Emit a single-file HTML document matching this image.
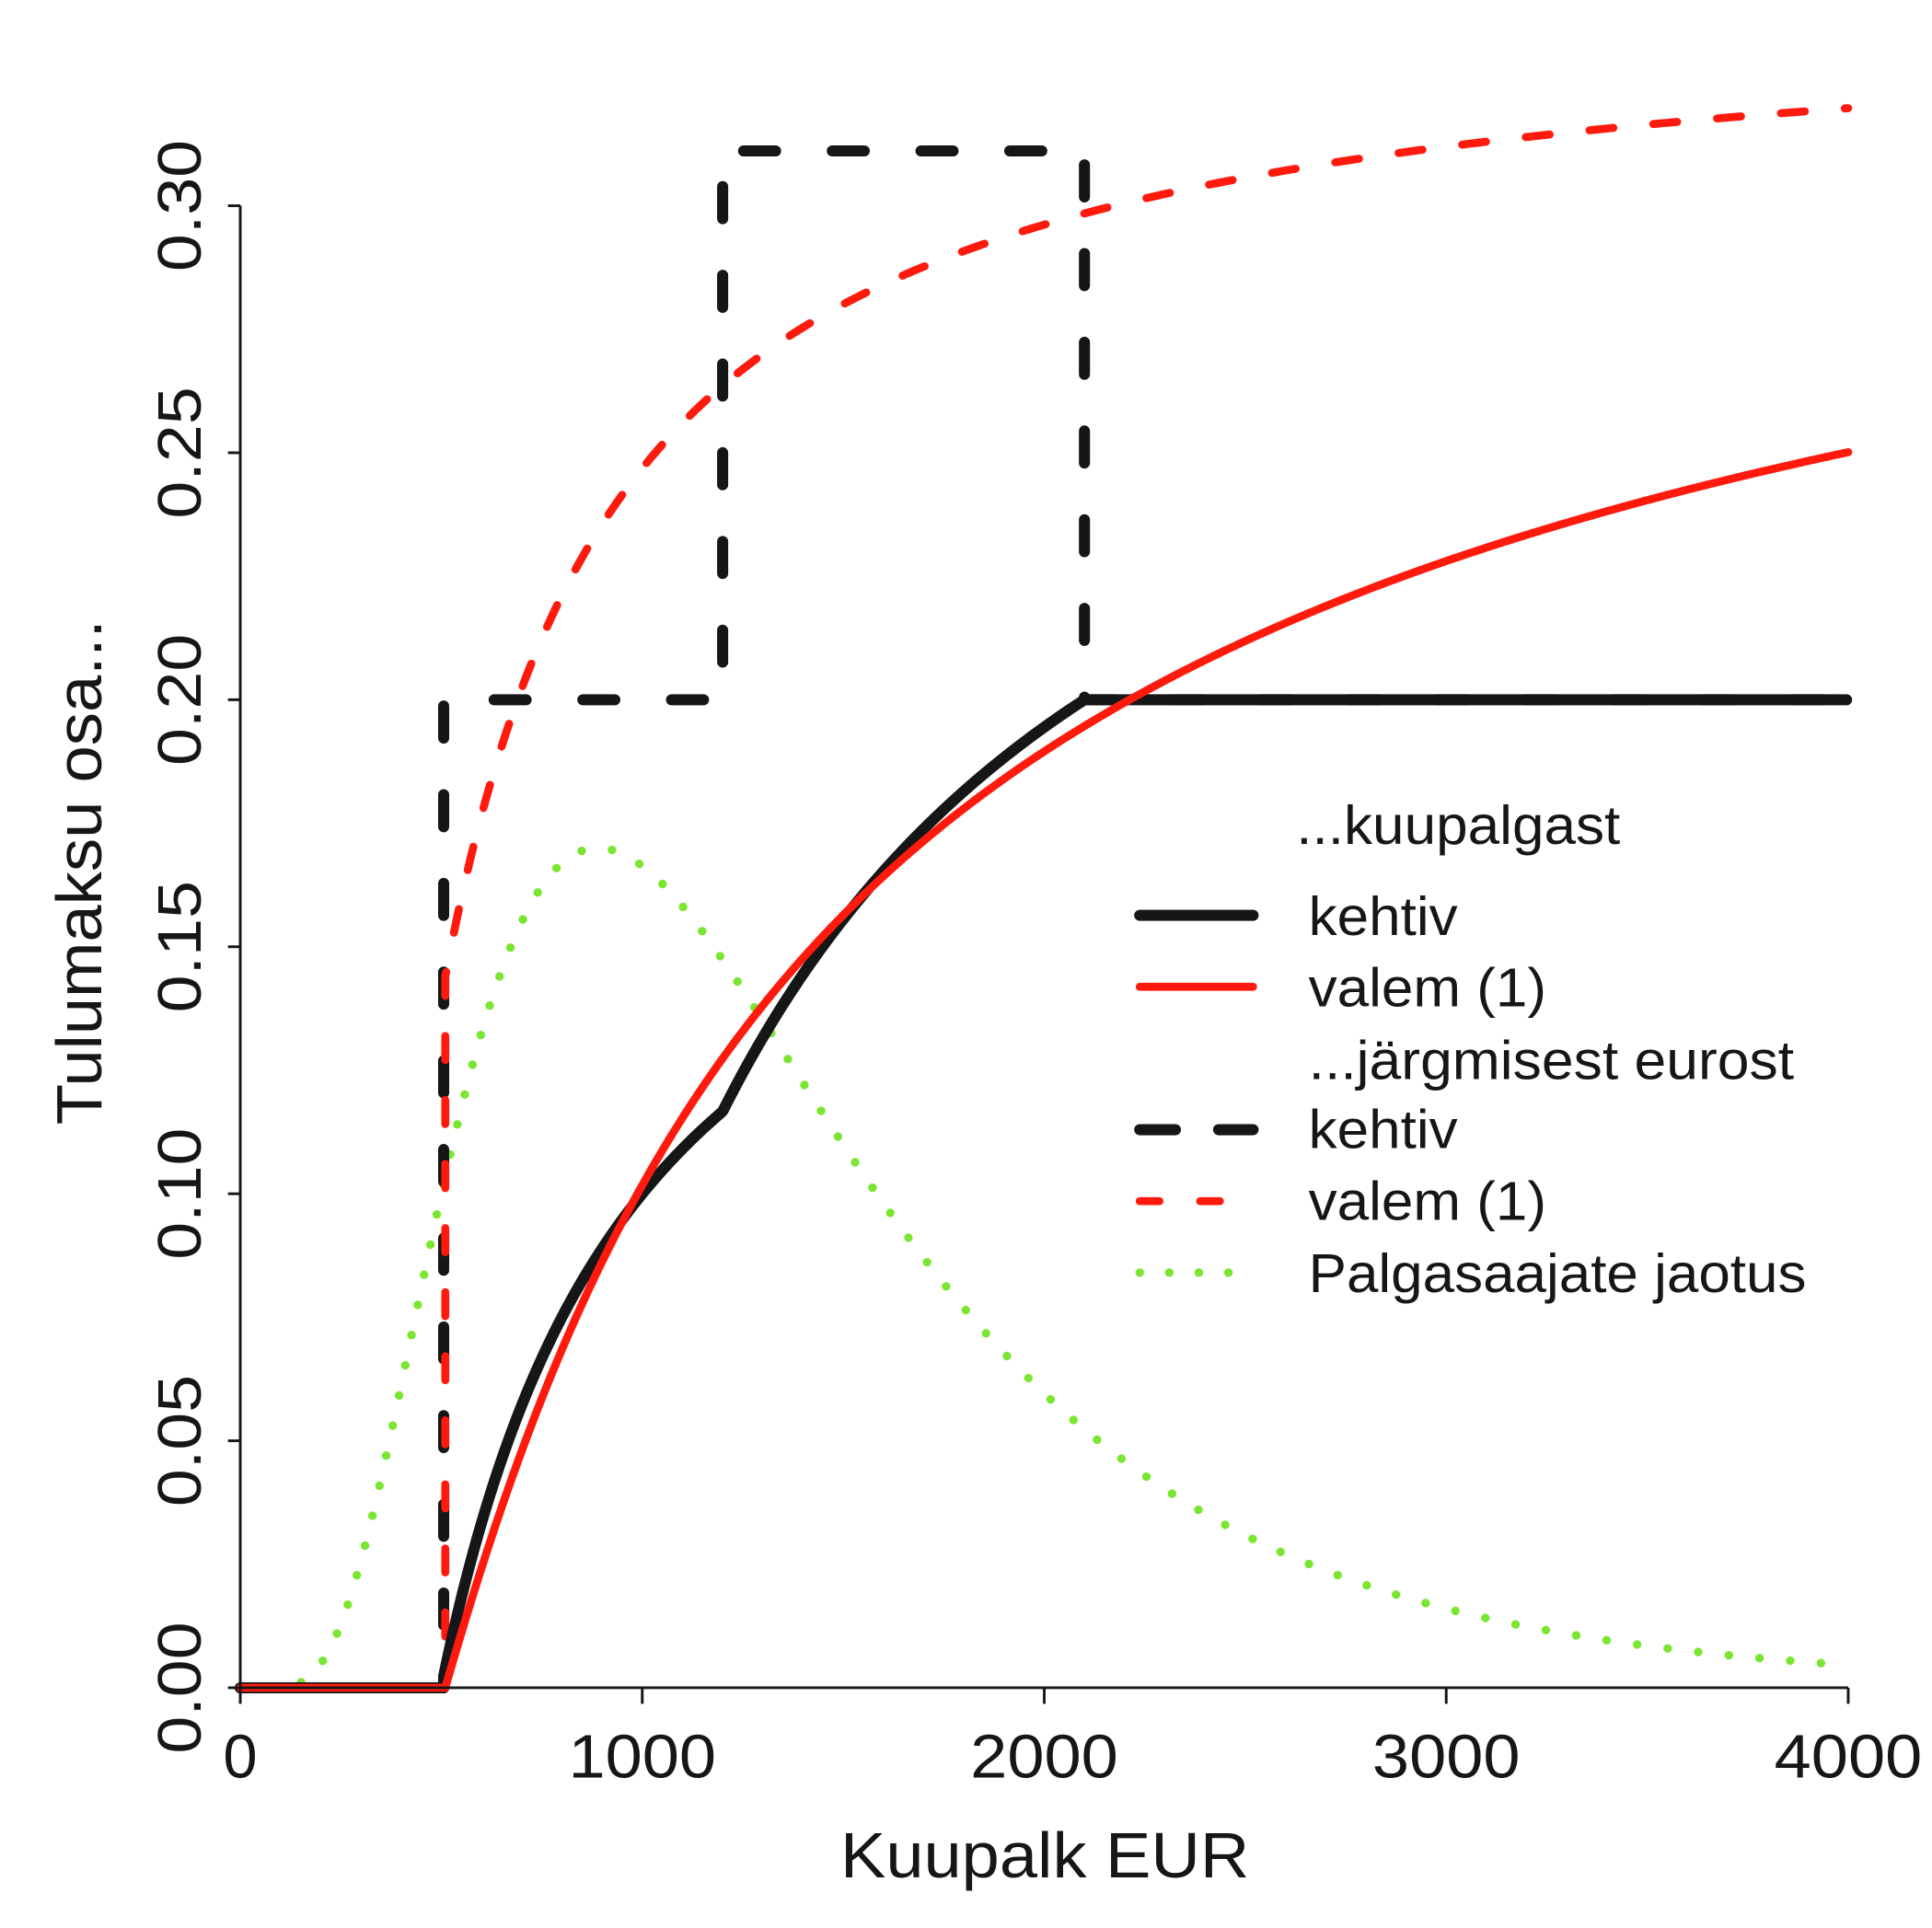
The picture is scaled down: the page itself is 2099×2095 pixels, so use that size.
<!DOCTYPE html>
<html><head><meta charset="utf-8"><style>
html,body{margin:0;padding:0;background:#fff;}
svg{display:block;}
text{font-family:"Liberation Sans Narrow","Liberation Sans",sans-serif;fill:#141618;}
</style></head><body>
<svg id="s" width="2099" height="2095" viewBox="0 0 1568 1565" preserveAspectRatio="none" xmlns="http://www.w3.org/2000/svg">
<rect width="1568" height="1565" fill="#fff"/>
<g id="plot"></g>
<g stroke="#141618" stroke-width="2.2" fill="none">
<line x1="195" y1="167" x2="195" y2="1370"/>
<line x1="185" y1="167" x2="195" y2="167"/>
<line x1="185" y1="367.5" x2="195" y2="367.5"/>
<line x1="185" y1="568" x2="195" y2="568"/>
<line x1="185" y1="768.5" x2="195" y2="768.5"/>
<line x1="185" y1="969" x2="195" y2="969"/>
<line x1="185" y1="1169.5" x2="195" y2="1169.5"/>
<line x1="185" y1="1370" x2="1500" y2="1370"/>
<line x1="195" y1="1370" x2="195" y2="1383"/>
<line x1="521.25" y1="1370" x2="521.25" y2="1383"/>
<line x1="847.5" y1="1370" x2="847.5" y2="1383"/>
<line x1="1173.75" y1="1370" x2="1173.75" y2="1383"/>
<line x1="1500" y1="1370" x2="1500" y2="1383"/>
</g>
<g font-size="50" text-anchor="middle">
<text transform="translate(163,167) rotate(-90)" textLength="107" lengthAdjust="spacingAndGlyphs">0.30</text>
<text transform="translate(163,367.5) rotate(-90)" textLength="107" lengthAdjust="spacingAndGlyphs">0.25</text>
<text transform="translate(163,568) rotate(-90)" textLength="107" lengthAdjust="spacingAndGlyphs">0.20</text>
<text transform="translate(163,768.5) rotate(-90)" textLength="107" lengthAdjust="spacingAndGlyphs">0.15</text>
<text transform="translate(163,969) rotate(-90)" textLength="107" lengthAdjust="spacingAndGlyphs">0.10</text>
<text transform="translate(163,1169.5) rotate(-90)" textLength="107" lengthAdjust="spacingAndGlyphs">0.05</text>
<text transform="translate(163,1370) rotate(-90)" textLength="107" lengthAdjust="spacingAndGlyphs">0.00</text>
</g>
<g font-size="50" text-anchor="middle">
<text x="195" y="1443">0</text>
<text x="521.25" y="1443" textLength="120" lengthAdjust="spacingAndGlyphs">1000</text>
<text x="847.5" y="1443" textLength="120" lengthAdjust="spacingAndGlyphs">2000</text>
<text x="1173.75" y="1443" textLength="120" lengthAdjust="spacingAndGlyphs">3000</text>
<text x="1500" y="1443" textLength="120" lengthAdjust="spacingAndGlyphs">4000</text>
<text x="848" y="1524" font-size="52" textLength="332" lengthAdjust="spacingAndGlyphs">Kuupalk EUR</text>
<text transform="translate(82,708) rotate(-90)" font-size="52" textLength="410" lengthAdjust="spacingAndGlyphs">Tulumaksu osa...</text>
</g>
<g font-size="44">
<text x="1052" y="685" textLength="263" lengthAdjust="spacingAndGlyphs">...kuupalgast</text>
<text x="1062" y="759" textLength="121" lengthAdjust="spacingAndGlyphs">kehtiv</text>
<text x="1062" y="817" textLength="193" lengthAdjust="spacingAndGlyphs">valem (1)</text>
<text x="1062" y="876" textLength="394" lengthAdjust="spacingAndGlyphs">...järgmisest eurost</text>
<text x="1062" y="932" textLength="121" lengthAdjust="spacingAndGlyphs">kehtiv</text>
<text x="1062" y="990" textLength="193" lengthAdjust="spacingAndGlyphs">valem (1)</text>
<text x="1062" y="1049" textLength="404" lengthAdjust="spacingAndGlyphs">Palgasaajate jaotus</text>
</g>
<g fill="none" stroke-linecap="round">
<line x1="925" y1="743" x2="1017" y2="743" stroke="#141618" stroke-width="9"/>
<line x1="925" y1="801" x2="1017" y2="801" stroke="#ff1a0d" stroke-width="6.5"/>
<line x1="925" y1="917" x2="954" y2="917" stroke="#141618" stroke-width="9"/>
<line x1="989" y1="917" x2="1017" y2="917" stroke="#141618" stroke-width="9"/>
<line x1="925" y1="975" x2="941" y2="975" stroke="#ff1a0d" stroke-width="6.5"/>
<line x1="974" y1="975" x2="990" y2="975" stroke="#ff1a0d" stroke-width="6.5"/>
<g stroke="#7be632" stroke-width="7"><line x1="925" y1="1033" x2="925" y2="1033"/><line x1="949" y1="1033" x2="949" y2="1033"/><line x1="973" y1="1033" x2="973" y2="1033"/><line x1="997" y1="1033" x2="997" y2="1033"/></g>
</g>
</svg>
<script>
(function(){
var sx=function(v){return 195+v*1305/4000;};
var sy=function(t){return 1370-t*4010;};
function path(pts){return pts.map(function(p,i){return (i?'L':'M')+sx(p[0]).toFixed(2)+' '+sy(p[1]).toFixed(2);}).join(' ');}
var g=document.getElementById('plot');
function add(d,stroke,w,dash){
 var p=document.createElementNS('http://www.w3.org/2000/svg','path');
 p.setAttribute('d',d);p.setAttribute('fill','none');p.setAttribute('stroke',stroke);
 p.setAttribute('stroke-width',w);p.setAttribute('stroke-linecap','round');p.setAttribute('stroke-linejoin','round');
 if(dash)p.setAttribute('stroke-dasharray',dash);
 g.appendChild(p);
}
var gp=[];
for(var w=0;w<=3950;w+=5){
 var t=0;
 if(w>0){var x=Math.log(w/890);t=0.17*Math.exp(-x*x/(2*0.3127));}
 gp.push([w,t]);
}
add(path(gp),'#7be632',7,'0 25');
var bd=[[0,0],[506,0],[506,0.2],[1200,0.2],[1200,0.3111],[2100,0.3111],[2100,0.2],[4000,0.2]];
add(path(bd),'#141618',9,'26 46');
var A=0.3426,B=90.0,C=-5763,w0=510;
var rd=[[0,0],[w0,0]];
for(var w=w0;w<=4000;w+=10){rd.push([w,Math.max(0,A-B/w+C/(w*w))]);}
add(path(rd),'#ff1a0d',6.5,'19.5 32.5');
var bs=[[0,0],[506,0]];
for(var w=506;w<=4000;w+=5){
 var t;
 if(w<=1200)t=0.2*(w-500)/w;
 else if(w<=2100){var E=500-500/900*(w-1200);t=0.2*(w-E)/w;}
 else t=0.2;
 bs.push([w,Math.max(0,t)]);
}
add(path(bs),'#141618',9);
var rs=[[0,0],[w0,0]];
for(var w=w0;w<=4000;w+=5){
 var T=A*(w-w0)-B*Math.log(w/w0)+C*(1/w0-1/w);
 rs.push([w,Math.max(0,T/w)]);
}
add(path(rs),'#ff1a0d',6.5);
})();
</script>
</body></html>
